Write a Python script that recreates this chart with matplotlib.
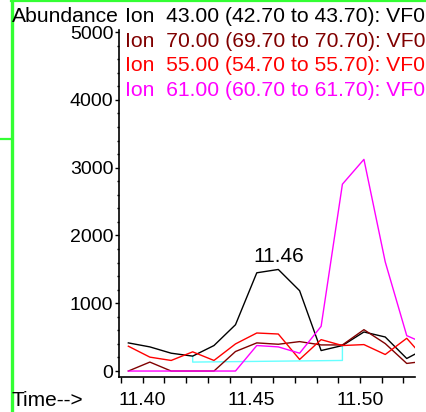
import numpy as np
import matplotlib
matplotlib.use("Agg")
import matplotlib.pyplot as plt
from matplotlib.lines import Line2D
from matplotlib.ticker import MultipleLocator

plt.rcParams['font.family'] = ['Liberation Sans', 'DejaVu Sans']

# scan times (min)
times = [11.3934, 11.4033, 11.4131, 11.4230, 11.4328, 11.4427, 11.4525,
         11.4624, 11.4722, 11.4821, 11.4919, 11.5018, 11.5116, 11.5215, 11.5313]

# extracted ion abundances
ion43 = [415, 356, 263, 220, 376, 683, 1449, 1498, 1185, 302, 376, 576, 502, 185, 351]
ion70 = [0, 132, 0, 0, 0, 288, 415, 395, 434, 385, 385, 610, 405, 112, 151]
ion55 = [366, 205, 156, 283, 156, 400, 561, 546, 171, 463, 376, 390, 244, 483, 127]
ion61 = [0, 0, 0, 0, 0, 0, 376, 356, 263, 659, 2756, 3122, 1610, 522, 385]

# integration baseline for the 11.46 peak
base_t = [11.4230, 11.4230, 11.4919, 11.4919]
base_y = [220, 132, 156, 376]

legend = ["Ion  43.00 (42.70 to 43.70): VF0",
          "Ion  70.00 (69.70 to 70.70): VF0",
          "Ion  55.00 (54.70 to 55.70): VF0",
          "Ion  61.00 (60.70 to 61.70): VF0"]
colors = ["black", "#800000", "#ff0000", "#ff00ff"]

W, H = 426, 412
fig = plt.figure(figsize=(W / 100, H / 100), dpi=100)
ax = fig.add_axes([119 / W, 35 / H, 296 / W, 347 / H])

ax.plot(base_t, base_y, color="#66ffff", lw=1.0)
for ys, c in zip([ion43, ion70, ion55, ion61], colors):
    ax.plot(times, ys, color=c, lw=1.0)

ax.text(11.4624, 1695, "11.46", ha="center", va="center", fontsize=15)

ax.set_xlim(11.3891, 11.5253)
ax.set_ylim(-88, 5030)
ax.xaxis.set_major_locator(MultipleLocator(0.05))
ax.xaxis.set_minor_locator(MultipleLocator(0.01))
ax.yaxis.set_major_locator(MultipleLocator(1000))
ax.yaxis.set_minor_locator(MultipleLocator(200))
ax.xaxis.set_major_formatter(matplotlib.ticker.FormatStrFormatter("%.2f"))
ax.tick_params(axis="x", which="both", length=4, width=1, pad=7, labelsize=14)
ax.tick_params(axis="y", which="major", length=3, width=1, pad=1, labelsize=14)
ax.tick_params(axis="y", which="minor", length=1.5, width=1)
for s in ["top", "right"]:
    ax.spines[s].set_visible(False)
for s in ["left", "bottom"]:
    ax.spines[s].set_linewidth(1.2)

fig.text(12 / W, 1 - 17 / H, "Abundance", ha="left", va="center", fontsize=15.2)
fig.text(12 / W, 1 - 401 / H, "Time-->", ha="left", va="center", fontsize=15)
for i, (txt, c) in enumerate(zip(legend, colors)):
    fig.text(125 / W, 1 - (17 + 24.4 * i) / H, txt, ha="left", va="center",
             fontsize=15.2, color=c)

# green frame lines
green = "#33ff33"
fig.add_artist(Line2D([11.5 / W, 11.5 / W], [0, 1], color=green, lw=2.4))
fig.add_artist(Line2D([11 / W, 1], [1 - 1 / H, 1 - 1 / H], color=green, lw=1.6))
fig.add_artist(Line2D([0, 11 / W], [1 - 139 / H, 1 - 139 / H], color=green, lw=1.6))

fig.savefig("out.png", dpi=100)
